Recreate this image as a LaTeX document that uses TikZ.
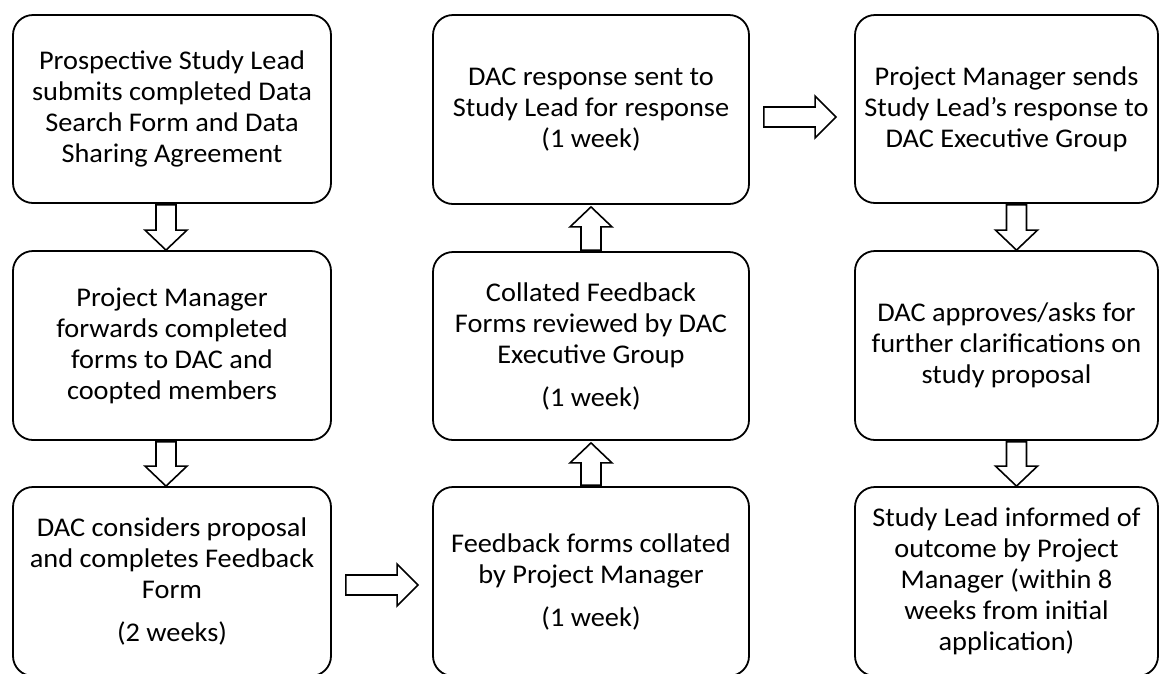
\documentclass[tikz,border=0pt]{standalone}
\usepackage{fontspec}
\setmainfont{Carlito}[FakeStretch=1.05]
\usetikzlibrary{calc}
\tikzset{
  stagebox/.style={draw=black, line width=1.8pt, rounded corners=20pt, fill=white,
    inner sep=0pt, align=center, font=\fontsize{27}{31}\selectfont},
  fatarrow/.style={draw=black, line width=1.6pt, fill=white, line join=miter},
}
\newcommand\flowdown[2]{\draw[fatarrow] ($(#1)+(-10,0)$) -- ($(#2)+(-10,-20)$) -- ($(#2)+(-21,-20)$) -- (#2) -- ($(#2)+(21,-20)$) -- ($(#2)+(10,-20)$) -- ($(#1)+(10,0)$) -- cycle;}
\newcommand\flowup[2]{\draw[fatarrow] ($(#1)+(-10,0)$) -- ($(#2)+(-10,20)$) -- ($(#2)+(-21,20)$) -- (#2) -- ($(#2)+(21,20)$) -- ($(#2)+(10,20)$) -- ($(#1)+(10,0)$) -- cycle;}
\newcommand\flowright[2]{\draw[fatarrow] ($(#1)+(0,-10)$) -- ($(#2)+(-21,-10)$) -- ($(#2)+(-21,-21)$) -- (#2) -- ($(#2)+(-21,21)$) -- ($(#2)+(-21,10)$) -- ($(#1)+(0,10)$) -- cycle;}
\begin{document}
\begin{tikzpicture}[x=1pt,y=-1pt]
\useasboundingbox (0,0) rectangle (1160,673);
\fill[white] (0,0) rectangle (1160,673);
\clip (0,0) rectangle (1160,673);
% left column
\node[stagebox, minimum width=318pt, minimum height=188pt] (tl) at (172,109)
  {Prospective Study Lead\\submits completed Data\\Search Form and Data\\Sharing Agreement};
\node[stagebox, minimum width=318pt, minimum height=189pt] (ml) at (172,345.5)
  {Project Manager\\forwards completed\\forms to DAC and\\coopted members};
\node[stagebox, minimum width=318pt, minimum height=189pt] (bl) at (172,581.5)
  {DAC considers proposal\\and completes Feedback\\Form\\[12pt](2 weeks)};
% middle column
\node[stagebox, minimum width=316pt, minimum height=189pt] (tm) at (591,109.5)
  {DAC response sent to\\Study Lead for response\\(1 week)};
\node[stagebox, minimum width=316pt, minimum height=188pt] (mm) at (591,346)
  {Collated Feedback\\Forms reviewed by DAC\\Executive Group\\[12pt](1 week)};
\node[stagebox, minimum width=316pt, minimum height=189pt] (bm) at (591,581.5)
  {Feedback forms collated\\by Project Manager\\[12pt](1 week)};
% right column
\node[stagebox, minimum width=303pt, minimum height=188pt] (tr) at (1006.5,109)
  {Project Manager sends\\Study Lead’s response to\\DAC Executive Group};
\node[stagebox, minimum width=303pt, minimum height=189pt] (mr) at (1006.5,345.5)
  {DAC approves/asks for\\further clarifications on\\study proposal};
\node[stagebox, minimum width=303pt, minimum height=189pt] (br) at (1006.5,581.5)
  {Study Lead informed of\\outcome by Project\\Manager (within 8\\weeks from initial\\application)};
% connector end points
\coordinate (a1s) at ($(tl.south)+(-6,1)$);  \coordinate (a1t) at ($(ml.north)+(-6,0)$);
\coordinate (a2s) at ($(ml.south)+(-6,1)$);  \coordinate (a2t) at ($(bl.north)+(-6,0)$);
\coordinate (a3s) at ($(bl.east)+(14,3.5)$); \coordinate (a3t) at ($(bm.west)+(-14,3.5)$);
\coordinate (a4s) at ($(bm.north)+(0,-1)$);  \coordinate (a4t) at ($(mm.south)+(0,2)$);
\coordinate (a5s) at ($(mm.north)+(0,-1)$);  \coordinate (a5t) at ($(tm.south)+(0,2)$);
\coordinate (a6s) at ($(tm.east)+(14,7.5)$); \coordinate (a6t) at ($(tr.west)+(-18,8)$);
\coordinate (a7s) at ($(tr.south)+(10,1)$);  \coordinate (a7t) at ($(mr.north)+(10,0)$);
\coordinate (a8s) at ($(mr.south)+(10,1)$);  \coordinate (a8t) at ($(br.north)+(10,0)$);
% connectors
\flowdown{a1s}{a1t}
\flowdown{a2s}{a2t}
\flowright{a3s}{a3t}
\flowup{a4s}{a4t}
\flowup{a5s}{a5t}
\flowright{a6s}{a6t}
\flowdown{a7s}{a7t}
\flowdown{a8s}{a8t}
\end{tikzpicture}
\end{document}
